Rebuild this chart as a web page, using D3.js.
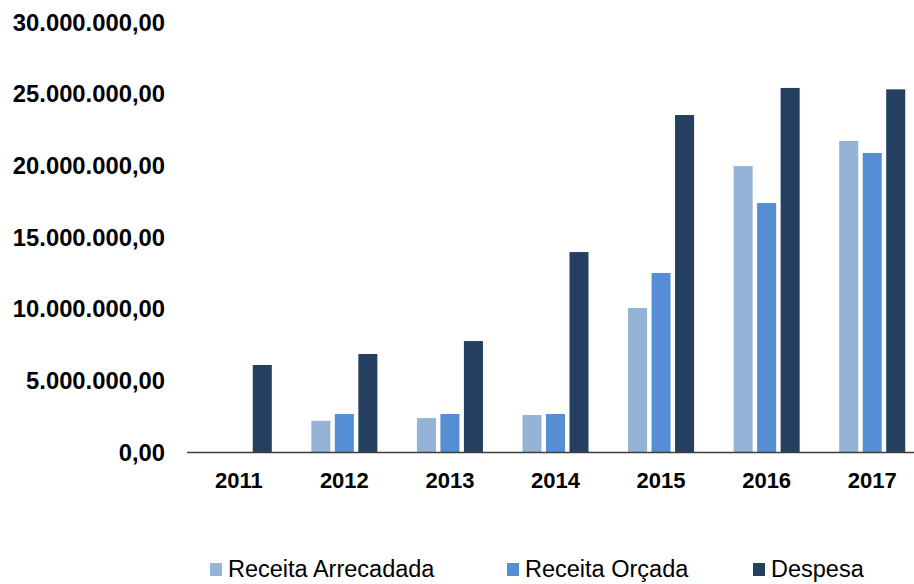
<!DOCTYPE html>
<html><head><meta charset="utf-8">
<script src="https://cdn.jsdelivr.net/npm/d3@7"></script>
<style>body{margin:0;background:#fff}svg{display:block}</style>
</head><body>
<svg id="c" width="914" height="584"></svg>
<script>
const categories = ["2011","2012","2013","2014","2015","2016","2017"];
const seriesNames = ["Receita Arrecadada","Receita Orçada","Despesa"];
const receitaArrecadada = [0, 2180000, 2370000, 2580000, 10050000, 19950000, 21700000];
const receitaOrcada = [0, 2650000, 2650000, 2650000, 12490000, 17370000, 20860000];
const despesa = [6070000, 6840000, 7740000, 13950000, 23510000, 25400000, 25300000];
const yTicks = [0, 5000000, 10000000, 15000000, 20000000, 25000000, 30000000];
const colors = ["#95B3D7", "#558ED5", "#243F60"];

const values = [receitaArrecadada, receitaOrcada, despesa];
const svg = d3.select("#c");
const y = d3.scaleLinear().domain([0, 30000000]).range([452, 22]);
const x0 = d3.scaleBand().domain(categories).range([186, 925]);
const x1 = d3.scaleBand().domain(seriesNames).range([-35.25, 35.25]).paddingInner(0.19).paddingOuter(0.095);

const fmt = v => {
  const s = d3.format(",.2f")(v);
  return s.replace(/,/g, "#").replace(".", ",").replace(/#/g, ".");
};

// y labels
svg.append("g").selectAll("text").data(yTicks).join("text")
  .attr("x", 165).attr("y", d => y(d)).attr("dy", "0.36em")
  .attr("text-anchor", "end")
  .style("font-family", "Liberation Sans, Arial, sans-serif")
  .style("font-weight", "bold").style("font-size", "23.8px").attr("fill", "#000")
  .text(fmt);

// bars
categories.forEach((c, ci) => {
  seriesNames.forEach((s, si) => {
    const v = values[si][ci];
    if (v <= 0) return;
    svg.append("rect")
      .attr("x", x0(c) + x0.bandwidth() / 2 + x1(s))
      .attr("width", x1.bandwidth())
      .attr("y", y(v))
      .attr("height", y(0) - y(v))
      .attr("fill", colors[si]);
  });
});

// axis line
svg.append("line").attr("x1", 187).attr("x2", 914).attr("y1", y(0) + 0.5).attr("y2", y(0) + 0.5)
  .attr("stroke", "#3f3f35").attr("stroke-width", 1.6);

// x labels
svg.append("g").selectAll("text").data(categories).join("text")
  .attr("x", d => x0(d) + x0.bandwidth() / 2).attr("y", 488)
  .attr("text-anchor", "middle")
  .style("font-family", "Liberation Sans, Arial, sans-serif")
  .style("font-weight", "bold").style("font-size", "22px").attr("fill", "#000")
  .text(d => d);

// legend
const legX = [210, 507, 753];
const leg = svg.append("g").selectAll("g").data(seriesNames).join("g")
  .attr("transform", (d, i) => `translate(${legX[i]},0)`);
leg.append("rect").attr("x", 0).attr("y", 563).attr("width", 12).attr("height", 13)
  .attr("fill", (d, i) => colors[i]);
leg.append("text").attr("x", 18).attr("y", 577)
  .style("font-family", "Liberation Sans, Arial, sans-serif")
  .style("font-size", "23.5px").attr("fill", "#000")
  .text(d => d);
</script>
</body></html>
